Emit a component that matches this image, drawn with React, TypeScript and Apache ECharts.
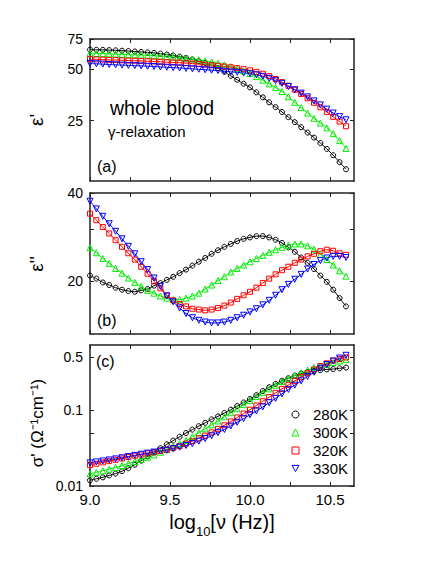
import React, { useEffect, useRef } from 'react';
import * as echarts from 'echarts';

const FONT = '"Liberation Sans", Arial, Helvetica, sans-serif';

// log10 of frequency (Hz)
const logFreq = [
  9.0, 9.04, 9.08, 9.12, 9.16, 9.2, 9.24, 9.28, 9.32, 9.36,
  9.4, 9.44, 9.48, 9.52, 9.56, 9.6, 9.64, 9.68, 9.72, 9.76,
  9.8, 9.84, 9.88, 9.92, 9.96, 10.0, 10.04, 10.08, 10.12, 10.16,
  10.2, 10.24, 10.28, 10.32, 10.36, 10.4, 10.44, 10.48, 10.52, 10.56,
  10.6,
];

const seriesNames = ['280K', '300K', '320K', '330K'];

// (a) epsilon'
const epsReal280 = [
  65.0, 64.9, 64.8, 64.6, 64.4, 64.1, 63.8, 63.4, 63.0, 62.6,
  62.2, 61.6, 60.9, 60.1, 59.2, 58.2, 57.0, 55.7, 54.4, 52.7,
  50.6, 48.2, 45.7, 43.3, 41.1, 39.1, 36.6, 34.2, 32.0, 30.0,
  28.1, 26.2, 24.5, 22.9, 21.3, 19.9, 18.5, 17.1, 15.7, 14.3,
  13.0,
];
const epsReal300 = [
  61.8, 61.7, 61.6, 61.4, 61.2, 61.0, 60.8, 60.6, 60.4, 60.2,
  59.9, 59.6, 59.2, 58.8, 58.3, 57.8, 57.2, 56.6, 55.9, 55.1,
  54.2, 53.0, 51.7, 50.3, 48.8, 47.2, 45.2, 43.1, 41.0, 39.0,
  37.0, 34.5, 32.0, 29.8, 27.7, 25.8, 24.2, 22.7, 21.0, 19.1,
  17.2,
];
const epsReal320 = [
  57.2, 57.0, 56.8, 56.6, 56.5, 56.3, 56.1, 56.0, 55.8, 55.6,
  55.4, 55.2, 54.9, 54.7, 54.5, 54.2, 53.9, 53.5, 53.1, 52.7,
  52.3, 51.8, 51.3, 50.7, 50.0, 49.2, 48.2, 47.0, 45.5, 43.8,
  42.0, 40.0, 37.9, 35.8, 33.8, 31.8, 29.9, 28.1, 26.3, 24.7,
  23.2,
];
const epsReal330 = [
  54.0, 53.7, 53.5, 53.2, 53.0, 52.8, 52.6, 52.4, 52.2, 52.0,
  51.8, 51.5, 51.3, 51.0, 50.8, 50.5, 50.2, 49.9, 49.6, 49.3,
  49.0, 48.6, 48.2, 47.9, 47.5, 47.0, 46.3, 45.4, 44.2, 42.8,
  41.3, 39.6, 37.9, 36.2, 34.4, 32.6, 30.9, 29.2, 27.7, 26.4,
  25.3,
];

// (b) epsilon''
const epsImag280 = [
  20.9, 20.4, 19.8, 19.4, 19.0, 18.7, 18.5, 18.4, 18.6, 18.8,
  19.3, 19.7, 20.2, 20.7, 21.3, 21.9, 22.6, 23.3, 24.0, 24.8,
  25.5, 26.2, 26.8, 27.4, 27.9, 28.2, 28.5, 28.5, 28.2, 27.7,
  27.0, 26.1, 25.2, 24.1, 23.1, 22.0, 20.9, 19.9, 18.7, 17.5,
  16.4,
];
const epsImag300 = [
  26.0, 25.0, 23.9, 23.0, 22.1, 21.3, 20.5, 19.8, 19.2, 18.6,
  18.2, 17.8, 17.5, 17.3, 17.3, 17.5, 17.8, 18.2, 18.8, 19.4,
  20.1, 20.7, 21.5, 22.1, 22.7, 23.3, 23.9, 24.5, 25.1, 25.6,
  26.1, 26.5, 26.8, 26.8, 26.4, 25.7, 24.7, 23.7, 22.7, 21.7,
  20.8,
];
const epsImag320 = [
  34.0, 32.3, 30.6, 29.1, 27.6, 26.2, 24.9, 23.7, 22.4, 21.2,
  20.0, 18.9, 17.9, 17.2, 16.7, 16.4, 16.1, 16.0, 15.9, 16.0,
  16.2, 16.5, 16.9, 17.4, 17.9, 18.4, 19.0, 19.7, 20.4, 21.1,
  21.8, 22.4, 23.1, 23.7, 24.3, 24.8, 25.3, 25.6, 25.4, 24.9,
  24.6,
];
const epsImag330 = [
  37.5, 35.3, 33.3, 31.4, 29.6, 27.9, 26.3, 24.8, 23.3, 21.9,
  20.5, 19.2, 17.8, 17.0, 16.2, 15.5, 15.0, 14.7, 14.5, 14.4,
  14.4, 14.5, 14.7, 15.0, 15.3, 15.7, 16.1, 16.6, 17.2, 17.9,
  18.7, 19.5, 20.3, 21.1, 22.0, 22.8, 23.5, 24.0, 24.3, 24.3,
  24.1,
];

// (c) sigma' (1/(Ohm cm))
const sigma280 = [
  0.0119, 0.01245, 0.013, 0.0138, 0.0146, 0.0157, 0.0172, 0.0191, 0.0216, 0.0246,
  0.0279, 0.0316, 0.0355, 0.0398, 0.0447, 0.0501, 0.0556, 0.0617, 0.0684, 0.0759,
  0.0832, 0.0923, 0.102, 0.114, 0.127, 0.141, 0.159, 0.18, 0.202, 0.224,
  0.246, 0.266, 0.288, 0.306, 0.32, 0.331, 0.339, 0.347, 0.351, 0.359,
  0.367,
];
const sigma300 = [
  0.01445, 0.0151, 0.0159, 0.0167, 0.0176, 0.0186, 0.0198, 0.021, 0.0224, 0.024,
  0.0257, 0.0279, 0.0303, 0.0331, 0.0363, 0.0398, 0.0449, 0.0506, 0.057, 0.0643,
  0.0724, 0.082, 0.0929, 0.105, 0.119, 0.135, 0.152, 0.171, 0.192, 0.215,
  0.24, 0.263, 0.288, 0.314, 0.34, 0.367, 0.386, 0.406, 0.427, 0.447,
  0.468,
];
const sigma320 = [
  0.0189, 0.0197, 0.0205, 0.0213, 0.0222, 0.0231, 0.0241, 0.0251, 0.026, 0.027,
  0.0279, 0.029, 0.0301, 0.0317, 0.0337, 0.0363, 0.0391, 0.0426, 0.0464, 0.0512,
  0.0569, 0.0635, 0.0713, 0.0805, 0.0908, 0.102, 0.116, 0.132, 0.15, 0.17,
  0.192, 0.217, 0.245, 0.275, 0.31, 0.347, 0.385, 0.418, 0.455, 0.478,
  0.5,
];
const sigma330 = [
  0.0202, 0.0208, 0.0214, 0.0221, 0.0228, 0.0236, 0.0245, 0.0254, 0.0263, 0.0272,
  0.0281, 0.029, 0.0297, 0.0311, 0.0326, 0.0343, 0.0364, 0.0391, 0.0423, 0.0461,
  0.0506, 0.0558, 0.062, 0.0694, 0.0776, 0.0873, 0.0982, 0.111, 0.126, 0.144,
  0.165, 0.189, 0.215, 0.245, 0.28, 0.319, 0.36, 0.403, 0.448, 0.491,
  0.534,
];

// axis ticks and labels
const xTicks = [9.0, 9.25, 9.5, 9.75, 10.0, 10.25, 10.5];
const xLabels = [9.0, 9.5, 10.0, 10.5];
const epsRealTicks = [25, 50, 75];
const epsRealLabels = [25, 50, 75];
const epsImagTicks = [20, 30, 40];
const epsImagLabels = [20, 40];
const sigmaTicks = [0.01, 0.05, 0.1, 0.5];
const sigmaLabels = [0.01, 0.1, 0.5];

const epsRealRange = [11.1, 75];
const epsImagRange = [13.2, 40];
const sigmaRange = [0.01, 0.73];
const xRange = [9.0, 10.65];

const COLORS = ['#000000', '#00ee00', '#ff0000', '#0000ff'];
const SYMBOLS = ['circle', 'triangle', 'rect', 'triangle'];
const SYMBOL_ROT = [0, 0, 0, 180];
const SYMBOL_SIZE = [5, 6, 5, 6];
const AXIS_COLOR = '#222';

function buildOption() {
  const grids = [
    { left: 90, top: 39, width: 264, height: 142 },
    { left: 90, top: 193, width: 264, height: 141 },
    { left: 90, top: 345, width: 264, height: 141 },
  ];
  const yDefs = [
    { range: epsRealRange, ticks: epsRealTicks, labels: epsRealLabels },
    { range: epsImagRange, ticks: epsImagTicks, labels: epsImagLabels },
    { range: sigmaRange, ticks: sigmaTicks, labels: sigmaLabels },
  ];
  const panels = [
    [epsReal280, epsReal300, epsReal320, epsReal330],
    [epsImag280, epsImag300, epsImag320, epsImag330],
    [sigma280, sigma300, sigma320, sigma330],
  ];

  const xAxis: any[] = [];
  const yAxis: any[] = [];
  grids.forEach((_, gi) => {
    (['bottom', 'top'] as const).forEach((pos) => {
      const main = gi === 2 && pos === 'bottom';
      xAxis.push({
        type: 'value',
        gridIndex: gi,
        position: pos,
        min: xRange[0],
        max: xRange[1],
        axisLine: { show: true, onZero: false, lineStyle: { color: AXIS_COLOR, width: 1.5 } },
        axisTick: {
          show: true,
          inside: true,
          length: 4,
          customValues: xTicks,
          lineStyle: { color: AXIS_COLOR, width: 1 },
        },
        axisLabel: {
          show: main,
          customValues: xLabels,
          formatter: (v: number) => v.toFixed(1),
          fontSize: 15,
          fontFamily: FONT,
          color: '#000',
          margin: 6,
        },
        splitLine: { show: false },
        name: main ? '{m|log}{s|10}{m|[ν (Hz)]}' : '',
        nameLocation: 'middle',
        nameGap: 26,
        nameTextStyle: {
          rich: {
            m: { fontSize: 20, fontFamily: FONT, color: '#000', lineHeight: 26, verticalAlign: 'top' },
            s: { fontSize: 13, fontFamily: FONT, color: '#000', lineHeight: 13, verticalAlign: 'bottom' },
          },
        },
      });
    });
    const yd = yDefs[gi];
    (['left', 'right'] as const).forEach((pos) => {
      const main = pos === 'left';
      yAxis.push({
        type: 'value',
        gridIndex: gi,
        position: pos,
        min: Math.log10(yd.range[0]),
        max: Math.log10(yd.range[1]),
        axisLine: { show: true, onZero: false, lineStyle: { color: AXIS_COLOR, width: 1.5 } },
        axisTick: {
          show: true,
          inside: true,
          length: 4,
          customValues: yd.ticks.map((t) => Math.log10(t)),
          lineStyle: { color: AXIS_COLOR, width: 1 },
        },
        axisLabel: {
          show: main,
          customValues: yd.labels.map((t) => Math.log10(t)),
          formatter: (v: number) => {
            let best = yd.labels[0];
            let bd = Infinity;
            yd.labels.forEach((l) => {
              const d = Math.abs(Math.log10(l) - v);
              if (d < bd) { bd = d; best = l; }
            });
            return String(best);
          },
          fontSize: 14,
          fontFamily: FONT,
          color: '#000',
          margin: 7,
        },
        splitLine: { show: false },
      });
    });
  });

  const series: any[] = [];
  panels.forEach((arrs, pi) => {
    arrs.forEach((vals, k) => {
      series.push({
        type: 'line',
        name: seriesNames[k],
        xAxisIndex: pi * 2,
        yAxisIndex: pi * 2,
        data: vals.map((v, i) => [logFreq[i], Math.log10(v)]),
        smooth: 0.3,
        showSymbol: true,
        showAllSymbol: true,
        symbol: SYMBOLS[k],
        symbolSize: SYMBOL_SIZE[k],
        symbolRotate: SYMBOL_ROT[k],
        lineStyle: { color: COLORS[k], width: 1 },
        itemStyle: { color: 'rgba(255,255,255,0)', borderColor: COLORS[k], borderWidth: 1 },
        emphasis: { disabled: true },
        silent: true,
        z: 2,
      });
    });
  });

  const legendIcons = ['circle', 'triangle', 'rect', 'path://M0,0L10,0L5,9Z'];

  const txt = (text: string, x: number, y: number, size: number, extra: any = {}) => ({
    type: 'text',
    x,
    y,
    silent: true,
    ...extra,
    style: {
      text,
      fontSize: size,
      fontFamily: FONT,
      fill: '#000',
      textAlign: extra.center ? 'center' : 'left',
      align: extra.center ? 'center' : 'left',
      textVerticalAlign: 'middle',
      verticalAlign: 'middle',
    },
  });

  return {
    animation: false,
    backgroundColor: '#ffffff',
    grid: grids.map((g) => ({ ...g, containLabel: false, outerBoundsMode: 'none' })),
    xAxis,
    yAxis,
    series,
    legend: {
      show: true,
      orient: 'vertical',
      left: 286.5,
      top: 402,
      itemWidth: 7,
      itemHeight: 7,
      itemGap: 3,
      symbolRotate: 0,
      symbolKeepAspect: true,
      selectedMode: false,
      data: seriesNames.map((n, i) => ({
        name: n,
        icon: legendIcons[i],
        itemStyle: { color: 'rgba(255,255,255,0)', borderColor: COLORS[i], borderWidth: 1 },
      })),
      textStyle: { fontSize: 15, fontFamily: FONT, color: '#000', padding: [0, 0, 0, 9] },
    },
    graphic: [
      txt('whole blood', 110, 108, 19.5),
      txt('γ-relaxation', 108, 131, 15),
      txt('(a)', 97, 166, 16),
      txt('(b)', 97, 320, 16),
      txt('(c)', 96, 361, 16),
      txt("ε'", 36, 120, 19, { rotation: Math.PI / 2, center: true }),
      txt("ε''", 36, 264, 19, { rotation: Math.PI / 2, center: true }),
      txt("σ' (Ω⁻¹cm⁻¹)", 37, 423, 17, { rotation: Math.PI / 2, center: true }),
    ],
  };
}

export default function App() {
  const ref = useRef<HTMLDivElement>(null);
  useEffect(() => {
    if (!ref.current) return;
    const chart = echarts.init(ref.current, null, { renderer: 'svg' });
    chart.setOption(buildOption() as any);
    return () => chart.dispose();
  }, []);
  return (
    <div
      ref={ref}
      style={{ position: 'absolute', left: 0, top: 0, width: 436, height: 564, background: '#fff' }}
    />
  );
}
